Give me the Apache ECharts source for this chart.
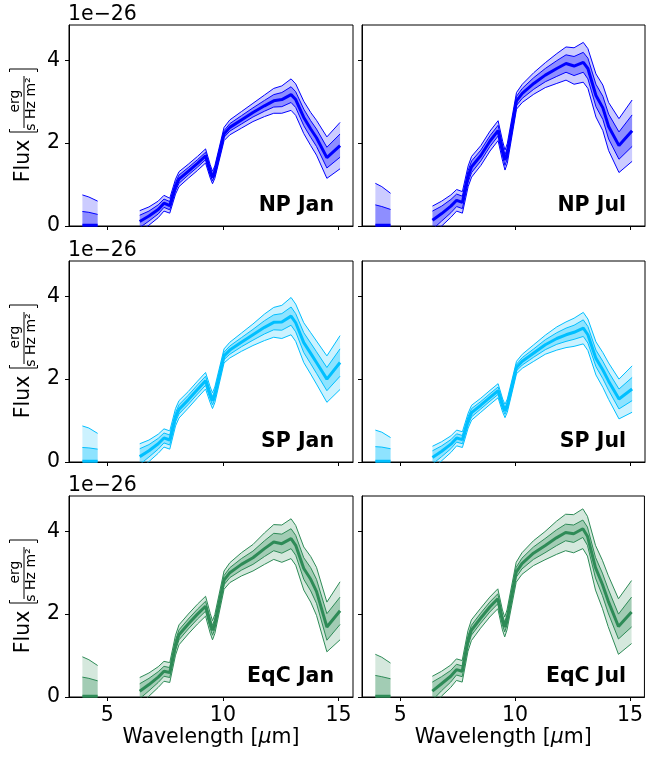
<!DOCTYPE html>
<html><head><meta charset="utf-8">
<script src="https://cdn.jsdelivr.net/npm/echarts@6/dist/echarts.min.js"></script>
<style>html,body{margin:0;padding:0;background:#fff}#c{width:646px;height:758px}</style>
</head><body><div id="c"></div>
<script>
// ---- data (flux in units of 1e-26 erg / (s Hz m^2)); null = gap ----
const wavelength = [3.92, 4.2, 4.58, null, 6.4, 6.8, 7.2, 7.45, 7.7, 7.95, 8.1, 8.5, 8.9, 9.25, 9.45, 9.55, 9.65, 10.05, 10.3, 10.8, 11.3, 11.8, 12.2, 12.55, 12.95, 13.15, 13.5, 13.8, 14.05, 14.5, 15.07];
const xTicks = [5, 10, 15];
const yTicks = [0, 2, 4];
const panelNames = ['NP Jan', 'NP Jul', 'SP Jan', 'SP Jul', 'EqC Jan', 'EqC Jul'];

const npJanMedian = [0.02,0.02,0.02,null, 0.11,0.24,0.40,0.55,0.49,0.95,1.13,1.32,1.51,1.69,1.32,1.17,1.30,2.22,2.38,2.56,2.74,2.90,3.02,3.05,3.17,3.05,2.62,2.34,2.13,1.65,1.94];
const npJanOuter  = [0.73,0.68,0.58,null, 0.26,0.22,0.20,0.19,0.18,0.18,0.18,0.17,0.17,0.17,0.16,0.15,0.15,0.16,0.18,0.20,0.22,0.26,0.30,0.33,0.38,0.38,0.39,0.40,0.42,0.50,0.56];
const npJanInner  = [0.33,0.31,0.26,null, 0.15,0.12,0.11,0.10,0.10,0.10,0.10,0.09,0.09,0.09,0.09,0.08,0.08,0.08,0.09,0.10,0.11,0.13,0.15,0.17,0.19,0.19,0.20,0.20,0.21,0.25,0.28];

const npJulMedian = [0.02,0.02,0.02,null, 0.14,0.30,0.48,0.62,0.57,1.20,1.43,1.70,2.05,2.30,1.80,1.59,1.75,3.02,3.20,3.44,3.64,3.80,3.92,3.86,3.95,3.80,3.15,2.85,2.40,1.94,2.30];
const npJulOuter  = [1.01,0.93,0.77,null, 0.34,0.30,0.27,0.26,0.26,0.25,0.25,0.24,0.24,0.24,0.24,0.24,0.24,0.20,0.22,0.26,0.30,0.36,0.40,0.44,0.48,0.48,0.52,0.55,0.58,0.65,0.74];
const npJulInner  = [0.49,0.45,0.38,null, 0.22,0.18,0.16,0.15,0.15,0.14,0.14,0.13,0.13,0.13,0.13,0.13,0.13,0.11,0.12,0.14,0.16,0.19,0.21,0.23,0.24,0.25,0.27,0.28,0.30,0.33,0.38];

const spJanMedian = [0.02,0.02,0.02,null, 0.13,0.27,0.44,0.58,0.53,1.08,1.27,1.50,1.75,1.96,1.62,1.48,1.62,2.56,2.70,2.89,3.07,3.25,3.37,3.38,3.52,3.36,2.88,2.62,2.40,2.00,2.40];
const spJanOuter  = [0.85,0.80,0.67,null, 0.31,0.26,0.23,0.22,0.22,0.21,0.21,0.20,0.20,0.20,0.19,0.19,0.19,0.17,0.19,0.22,0.26,0.32,0.36,0.40,0.45,0.45,0.48,0.50,0.52,0.56,0.65];
const spJanInner  = [0.33,0.32,0.29,null, 0.19,0.15,0.13,0.12,0.12,0.11,0.11,0.11,0.11,0.11,0.10,0.10,0.10,0.09,0.10,0.11,0.13,0.16,0.18,0.20,0.22,0.22,0.24,0.25,0.26,0.28,0.33];

const spJulMedian = [0.02,0.02,0.02,null, 0.11,0.26,0.43,0.58,0.54,1.00,1.19,1.37,1.56,1.72,1.36,1.23,1.36,2.28,2.43,2.63,2.83,2.98,3.07,3.13,3.23,3.07,2.50,2.22,1.95,1.52,1.76];
const spJulOuter  = [0.75,0.70,0.57,null, 0.27,0.23,0.20,0.19,0.19,0.18,0.18,0.17,0.17,0.17,0.16,0.16,0.16,0.15,0.17,0.20,0.23,0.28,0.31,0.34,0.38,0.38,0.40,0.42,0.44,0.48,0.56];
const spJulInner  = [0.35,0.34,0.30,null, 0.16,0.13,0.11,0.10,0.10,0.10,0.10,0.09,0.09,0.09,0.09,0.08,0.08,0.08,0.09,0.10,0.12,0.14,0.16,0.17,0.20,0.20,0.20,0.21,0.22,0.24,0.28];

const eqcJanMedian = [0.02,0.02,0.02,null, 0.14,0.30,0.48,0.62,0.59,1.25,1.50,1.76,2.00,2.19,1.78,1.61,1.76,2.82,3.00,3.20,3.36,3.58,3.74,3.70,3.82,3.66,3.10,2.84,2.55,1.69,2.08];
const eqcJanOuter  = [0.95,0.88,0.74,null, 0.33,0.28,0.25,0.24,0.24,0.24,0.24,0.24,0.24,0.24,0.24,0.23,0.23,0.22,0.24,0.28,0.32,0.38,0.42,0.45,0.48,0.48,0.52,0.55,0.58,0.60,0.70];
const eqcJanInner  = [0.46,0.43,0.37,null, 0.18,0.15,0.13,0.12,0.12,0.12,0.12,0.12,0.12,0.12,0.12,0.12,0.12,0.11,0.12,0.14,0.16,0.19,0.21,0.23,0.24,0.24,0.26,0.28,0.29,0.32,0.33];

const eqcJulMedian = [0.02,0.02,0.02,null, 0.14,0.32,0.50,0.66,0.62,1.35,1.61,1.90,2.17,2.37,1.86,1.69,1.86,3.01,3.22,3.47,3.65,3.84,3.97,3.94,4.06,3.88,3.12,2.72,2.32,1.70,2.05];
const eqcJulOuter  = [1.01,0.94,0.80,null, 0.36,0.30,0.27,0.26,0.26,0.25,0.25,0.24,0.24,0.24,0.24,0.24,0.24,0.24,0.26,0.30,0.34,0.40,0.44,0.46,0.48,0.48,0.54,0.58,0.62,0.67,0.76];
const eqcJulInner  = [0.50,0.47,0.42,null, 0.22,0.17,0.14,0.13,0.13,0.12,0.12,0.12,0.12,0.12,0.12,0.12,0.12,0.12,0.13,0.15,0.17,0.19,0.20,0.21,0.21,0.22,0.25,0.27,0.29,0.30,0.36];

// ---- styling / layout ----
const FONT = 'DejaVu Sans';
const FS = 20.5;
const colLeft = [69, 362], colWidth = [284, 283];
const rowTop = [25, 261, 496], rowH = 201;
const X_MIN = 3.34, X_MAX = 15.63, Y_MIN = 0, Y_MAX = 4.85;
const RGB = {NP: [0, 0, 255], SP: [0, 191, 255], EqC: [46, 139, 87]};

const panels = [
  {name: panelNames[0], med: npJanMedian, outer: npJanOuter, inner: npJanInner, c: 'NP'},
  {name: panelNames[1], med: npJulMedian, outer: npJulOuter, inner: npJulInner, c: 'NP'},
  {name: panelNames[2], med: spJanMedian, outer: spJanOuter, inner: spJanInner, c: 'SP'},
  {name: panelNames[3], med: spJulMedian, outer: spJulOuter, inner: spJulInner, c: 'SP'},
  {name: panelNames[4], med: eqcJanMedian, outer: eqcJanOuter, inner: eqcJanInner, c: 'EqC'},
  {name: panelNames[5], med: eqcJulMedian, outer: eqcJulOuter, inner: eqcJulInner, c: 'EqC'}
];

const segs = [];
(function () { let cur = []; wavelength.forEach((x, i) => { if (x == null) { if (cur.length) segs.push(cur); cur = []; } else cur.push(i); }); if (cur.length) segs.push(cur); })();

const grids = [], xAxes = [], yAxes = [], series = [], graphics = [];
panels.forEach((p, g) => {
  const row = Math.floor(g / 2), col = g % 2;
  const rgb = RGB[p.c];
  const lineC = `rgb(${rgb.join(',')})`;
  const fillOuter = `rgba(${rgb.join(',')},0.2)`;
  const fillInner = `rgba(${rgb.join(',')},0.3)`;
  grids.push({left: colLeft[col], top: rowTop[row], width: colWidth[col], height: rowH,
    show: true, borderColor: '#000', borderWidth: 1, backgroundColor: 'transparent', containLabel: false});
  xAxes.push({type: 'value', gridIndex: g, min: X_MIN, max: X_MAX,
    axisLine: {show: true, lineStyle: {color: '#000', width: 1}},
    splitLine: {show: false},
    axisTick: {show: true, inside: false, length: 4, lineStyle: {color: '#000', width: 1}, customValues: xTicks},
    axisLabel: {show: row === 2, customValues: xTicks, fontSize: FS, fontFamily: FONT, color: '#000', margin: 8},
    name: row === 2 ? '{n|Wavelength [}{i|μ}{n|m]}' : '', nameLocation: 'middle', nameGap: 28,
    nameTextStyle: {fontSize: FS, fontFamily: FONT, color: '#000',
      rich: {n: {fontSize: FS, fontFamily: FONT, color: '#000'}, i: {fontSize: FS, fontFamily: FONT, fontStyle: 'italic', color: '#000'}}}
  });
  yAxes.push({type: 'value', gridIndex: g, min: Y_MIN, max: Y_MAX,
    axisLine: {show: true, lineStyle: {color: '#000', width: 1}},
    splitLine: {show: false},
    axisTick: {show: true, inside: false, length: 4, lineStyle: {color: '#000', width: 1}, customValues: yTicks},
    axisLabel: {show: col === 0, customValues: yTicks, fontSize: FS, fontFamily: FONT, color: '#000', margin: 9}
  });
  segs.forEach(seg => {
    const pts = (half, sign) => seg.map(i => [wavelength[i], p.med[i] + sign * half[i]]);
    [[p.outer, fillOuter], [p.inner, fillInner]].forEach(([half, fill]) => {
      const up = pts(half, 1), lo = pts(half, -1);
      series.push({type: 'custom', xAxisIndex: g, yAxisIndex: g, clip: true, silent: true, z: 1,
        data: [up[0]],
        renderItem: (params, api) => ({type: 'polygon',
          shape: {points: up.concat(lo.slice().reverse()).map(d => api.coord(d))},
          style: {fill: fill, stroke: null}})
      });
    });
    [[p.outer, 1], [p.outer, -1], [p.inner, 1], [p.inner, -1]].forEach(([half, s]) => {
      series.push({type: 'line', xAxisIndex: g, yAxisIndex: g, data: pts(half, s), symbol: 'none',
        lineStyle: {color: lineC, width: 1}, clip: true, silent: true, z: 3});
    });
    series.push({type: 'line', xAxisIndex: g, yAxisIndex: g, data: seg.map(i => [wavelength[i], p.med[i]]),
      symbol: 'none', lineStyle: {color: lineC, width: 3}, clip: true, silent: true, z: 4});
  });
  // panel label
  const right = colLeft[col] + colWidth[col], bottom = rowTop[row] + rowH;
  graphics.push({type: 'text', x: right - 19, y: bottom - 10, z: 10,
    style: {text: p.name, font: `bold ${FS}px "${FONT}"`, fill: '#000', align: 'right', verticalAlign: 'bottom', textAlign: 'right', textVerticalAlign: 'bottom'}});
});

// offset text and y-axis label per row
rowTop.forEach((t, row) => {
  const dy = t - rowTop[0];
  graphics.push({type: 'text', x: 68, y: 14.5 + dy, style: {text: '1e\u221226', font: `${FS}px "${FONT}"`, fill: '#000', align: 'left', verticalAlign: 'middle', textAlign: 'left', textVerticalAlign: 'middle'}});
  graphics.push({type: 'text', x: 23.5, y: 161 + dy, rotation: Math.PI / 2, style: {text: 'Flux', font: `${FS}px "${FONT}"`, fill: '#000', align: 'center', verticalAlign: 'middle', textAlign: 'center', textVerticalAlign: 'middle'}});
  graphics.push({type: 'text', x: 15, y: 101 + dy, rotation: Math.PI / 2, style: {text: 'erg', font: `14px "${FONT}"`, fill: '#000', align: 'center', verticalAlign: 'middle', textAlign: 'center', textVerticalAlign: 'middle'}});
  graphics.push({type: 'text', x: 31.5, y: 104 + dy, rotation: Math.PI / 2, style: {text: 's Hz m\u00b2', font: `14px "${FONT}"`, fill: '#000', align: 'center', verticalAlign: 'middle', textAlign: 'center', textVerticalAlign: 'middle'}});
  graphics.push({type: 'line', shape: {x1: 24, y1: 76 + dy, x2: 24, y2: 128 + dy}, style: {stroke: '#000', lineWidth: 1}});
  graphics.push({type: 'polyline', shape: {points: [[9.5, 129 + dy], [9.5, 132 + dy], [37.5, 132 + dy], [37.5, 129 + dy]]}, style: {stroke: '#000', lineWidth: 1, fill: null}});
  graphics.push({type: 'polyline', shape: {points: [[9.5, 72 + dy], [9.5, 69 + dy], [37.5, 69 + dy], [37.5, 72 + dy]]}, style: {stroke: '#000', lineWidth: 1, fill: null}});
});

const chart = echarts.init(document.getElementById('c'), null, {renderer: 'canvas'});
chart.setOption({animation: false, backgroundColor: '#fff', grid: grids, xAxis: xAxes, yAxis: yAxes, series: series, graphic: graphics});
</script></body></html>
